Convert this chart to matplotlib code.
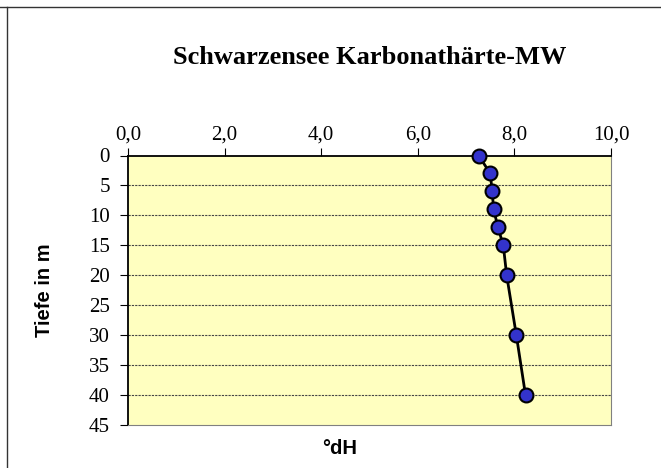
import matplotlib
matplotlib.use("Agg")
import matplotlib.pyplot as plt
from matplotlib.lines import Line2D

depth = [0, 3, 6, 9, 12, 15, 20, 30, 40]
dh = [7.26, 7.50, 7.54, 7.57, 7.66, 7.77, 7.84, 8.04, 8.23]
xticks = [0, 2, 4, 6, 8, 10]
xticklabels = ["0,0", "2,0", "4,0", "6,0", "8,0", "10,0"]
yticks = [0, 5, 10, 15, 20, 25, 30, 35, 40, 45]

W, H = 661, 468
fig = plt.figure(figsize=(W / 100, H / 100), dpi=100)
fig.patch.set_facecolor("white")

left, right, top, bottom = 128, 611, 155.5, 425
ax = fig.add_axes([left / W, 1 - bottom / H, (right - left) / W, (bottom - top) / H])
ax.set_facecolor("#FFFFC0")

ax.set_xlim(0, 10)
ax.set_ylim(45, 0)
ax.set_xticks(xticks)
ax.set_xticklabels(xticklabels)
ax.set_yticks(yticks)
ax.xaxis.tick_top()
ax.tick_params(axis="both", direction="out", length=6, width=0.8, colors="black",
               labelsize=15)
ax.tick_params(axis="x", pad=2)
ax.tick_params(axis="y", pad=7)
for lab in ax.get_xticklabels() + ax.get_yticklabels():
    lab.set_fontfamily("Liberation Serif")

for y in yticks[1:-1]:
    ax.axhline(y, color="#444444", lw=0.8, ls=(0, (2, 1)), zorder=1)

ax.spines["left"].set_color("black")
ax.spines["left"].set_linewidth(1.3)
ax.spines["top"].set_color("black")
ax.spines["top"].set_linewidth(1.3)
ax.spines["right"].set_color("#808080")
ax.spines["right"].set_linewidth(0.8)
ax.spines["bottom"].set_color("#808080")
ax.spines["bottom"].set_linewidth(0.8)

ax.plot(dh, depth, color="black", lw=2, marker="o", markersize=10,
        markerfacecolor="#3333CC", markeredgecolor="black", markeredgewidth=1.5,
        zorder=3, clip_on=False)

fig.text(370 / W, 1 - 58 / H, "Schwarzensee Karbonathärte-MW", ha="center", va="center",
         fontsize=19, fontweight="bold", fontfamily="Liberation Serif")
fig.text(45 / W, 1 - 290 / H, "Tiefe in m", ha="center", va="center", rotation=90,
         fontsize=14.5, fontweight="bold", fontfamily="Liberation Sans")
fig.text(340 / W, 1 - 449 / H, "°dH", ha="center", va="center",
         fontsize=14.5, fontweight="bold", fontfamily="Liberation Sans")

fig.add_artist(Line2D([0, 1], [1 - 7 / H, 1 - 7 / H], color="#333333", lw=1,
                      transform=fig.transFigure))
fig.add_artist(Line2D([7 / W, 7 / W], [0, 1 - 7 / H], color="#333333", lw=1,
                      transform=fig.transFigure))

fig.savefig("out.png", dpi=100)
